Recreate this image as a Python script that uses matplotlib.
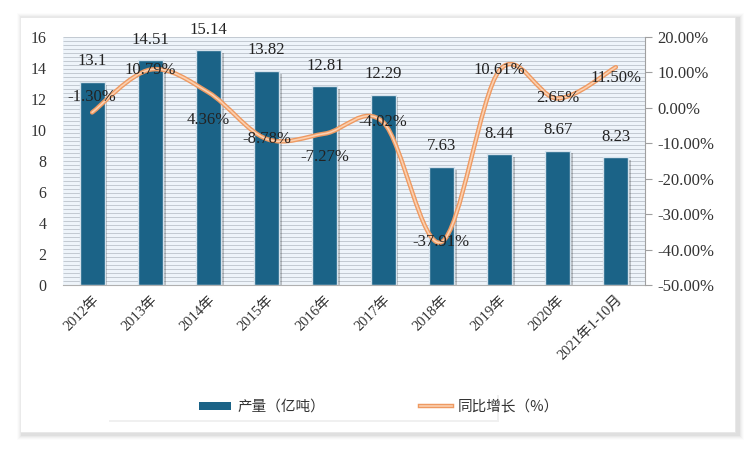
import numpy as np
import matplotlib
matplotlib.use("Agg")
import matplotlib.pyplot as plt
import matplotlib.patheffects as pe
from matplotlib.patches import Rectangle, Patch
from matplotlib.lines import Line2D
from matplotlib.path import Path
from matplotlib.patches import PathPatch
from matplotlib.ticker import FuncFormatter

plt.rcParams['font.family'] = ['Liberation Serif', 'Noto Sans CJK SC', 'DejaVu Sans']

# data
years = ['2012年', '2013年', '2014年', '2015年', '2016年', '2017年',
         '2018年', '2019年', '2020年', '2021年1-10月']
output = [13.1, 14.51, 15.14, 13.82, 12.81, 12.29, 7.63, 8.44, 8.67, 8.23]
growth = [-1.30, 10.79, 4.36, -8.78, -7.27, -4.02, -37.91, 10.61, 2.65, 11.50]
bar_labels = ['13.1', '14.51', '15.14', '13.82', '12.81', '12.29', '7.63', '8.44', '8.67', '8.23']

# vertical nudge (points) of the growth labels, as placed in the original
label_dy = [11, 0, -20, 0, -17, 0, 0, 0, 0, -8]

bar_color = '#1b6387'
line_color = '#f2a46e'
x = np.arange(len(years))

fig = plt.figure(figsize=(7.5, 4.49), dpi=100)

# white card with a soft shadow
W, H = 750, 449
for i, a in enumerate([0.012, 0.018, 0.024, 0.03, 0.04]):
    g = 6 - i
    fig.patches.append(Rectangle(((20 - g + 3) / W, 1 - (432 + g + 2) / H),
                                 (715 + 2 * g) / W, (415 + 2 * g) / H,
                                 transform=fig.transFigure, facecolor='black',
                                 alpha=a, edgecolor='none', zorder=0))
fig.patches.append(Rectangle((20 / W, 1 - 432 / H), 715 / W, 415 / H,
                             transform=fig.transFigure, facecolor='white',
                             edgecolor='#e6e6e6', linewidth=0.5, zorder=1))

ax = fig.add_axes([63 / W, 1 - 285 / H, 582 / W, 248 / H])
ax.set_zorder(2)
ax.set_facecolor('#eef4fa')
# striped background
stripes = np.linspace(0, 1, 63)
ax.hlines(stripes, 0, 1, transform=ax.transAxes, colors='#c2c9d1', linewidth=0.7, zorder=0)

bars = ax.bar(x, output, width=0.43, color=bar_color, edgecolor='#d5e2ec', linewidth=1.0, zorder=2)
for b in bars:
    b.set_path_effects([pe.SimplePatchShadow(offset=(2, -2), shadow_rgbFace='black', alpha=0.22),
                        pe.Normal()])

for xi, v, t in zip(x, output, bar_labels):
    ax.annotate(t, (xi, v), xytext=(0, 9), textcoords='offset points',
                ha='center', va='bottom', fontsize=12, color='#222222', zorder=5)

ax.set_xlim(-0.5, len(years) - 0.5)
ax.set_ylim(0, 16)
ax.set_yticks(np.arange(0, 17, 2))
ax.set_xticks(x)
ax.set_xticklabels(years, rotation=45, ha='right', rotation_mode='anchor', fontsize=10.5, color='#333333')
ax.tick_params(axis='x', length=0, pad=6)
ax.tick_params(axis='y', length=0, labelsize=11.5, labelcolor='#333333', pad=12)
for s in ['top', 'left', 'right']:
    ax.spines[s].set_visible(False)
ax.spines['bottom'].set_color('#b0b0b0')

ax2 = ax.twinx()
ax2.set_ylim(-50, 20)
ax2.set_yticks(np.arange(-50, 21, 10))
ax2.yaxis.set_major_formatter(FuncFormatter(lambda v, p: f'{v:.2f}%'))
ax2.tick_params(axis='y', length=5, color='#a0a0a0', labelsize=12, labelcolor='#333333', pad=4)
for s in ['top', 'left', 'bottom']:
    ax2.spines[s].set_visible(False)
ax2.spines['right'].set_color('#a0a0a0')

# smoothed line (Catmull-Rom as cubic Bezier segments)
pts = np.column_stack([x, growth]).astype(float)
verts = [tuple(pts[0])]
codes = [Path.MOVETO]
n = len(pts)
for i in range(n - 1):
    p0 = pts[max(i - 1, 0)]
    p1 = pts[i]
    p2 = pts[i + 1]
    p3 = pts[min(i + 2, n - 1)]
    c1 = p1 + (p2 - p0) / 6
    c2 = p2 - (p3 - p1) / 6
    verts += [tuple(c1), tuple(c2), tuple(p2)]
    codes += [Path.CURVE4] * 3
curve = Path(verts, codes)
ax2.add_patch(PathPatch(curve, facecolor='none', edgecolor='#ee9a62', linewidth=3.2, zorder=3,
                        capstyle='round'))
ax2.add_patch(PathPatch(curve, facecolor='none', edgecolor='#fbd0b0', linewidth=1.2, zorder=4,
                        capstyle='round'))

for xi, v, dy in zip(x, growth, label_dy):
    ax2.annotate(f'{v:.2f}%', (xi, v), xytext=(0, dy), textcoords='offset points',
                 ha='center', va='center', fontsize=12, color='#222222', zorder=6)

# legend box
fig.patches.append(Rectangle((109 / W, 1 - 422 / H), 390 / W, 27 / H,
                             transform=fig.transFigure, facecolor='#000000', alpha=0.06,
                             edgecolor='none', zorder=2))
fig.patches.append(Rectangle((107 / W, 1 - 420 / H), 390 / W, 27 / H,
                             transform=fig.transFigure, facecolor='white',
                             edgecolor='none', zorder=3))
line_handle = Line2D([0], [0], color='#fbd0b0', linewidth=1.2,
                     path_effects=[pe.Stroke(linewidth=3.2, foreground='#ee9a62'), pe.Normal()])
handles = [Patch(facecolor=bar_color, edgecolor='none'), line_handle]
leg = fig.legend(handles, ['产量（亿吨）', '同比增长（%）'], ncol=2, frameon=False,
                 loc='center left', bbox_to_anchor=(186 / W, 1 - 407 / H),
                 handlelength=2.2, handleheight=0.5, columnspacing=6.5, handletextpad=0.4,
                 prop={'family': ['Noto Sans CJK SC'], 'size': 10.5})
leg.set_zorder(5)
for t in leg.get_texts():
    t.set_color('#333333')

fig.savefig('out.png', dpi=100)
